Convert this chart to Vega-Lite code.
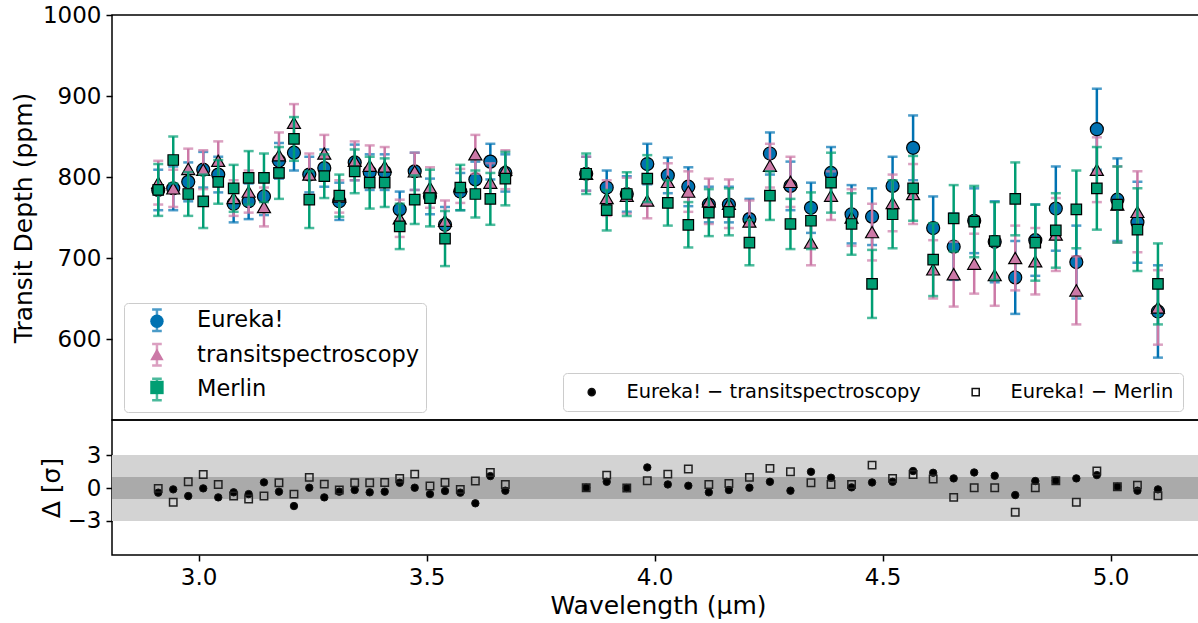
{
  "$schema": "https://vega.github.io/schema/vega-lite/v6.json",
  "padding": {"left": 10, "top": 3, "right": 0, "bottom": 0},
  "background": "white",
  "config": {
    "font": "DejaVu Sans",
    "view": {"stroke": "black", "strokeWidth": 1.5},
    "axis": {"domain": false, "grid": false, "ticks": true, "tickColor": "black", "tickWidth": 1.5, "tickSize": 6, "labelFontSize": 23, "labelColor": "black", "labelPadding": 5, "titleFontSize": 25, "titleFontWeight": "normal", "titleColor": "black"},
    "legend": {"labelFont": "DejaVu Sans", "labelColor": "black", "labelLimit": 600}
  },
  "datasets": {
    "main": [
      {"wl":2.9114,"series":"Eureka!","depth":784,"err":25},
      {"wl":2.9443,"series":"Eureka!","depth":786,"err":27},
      {"wl":2.9772,"series":"Eureka!","depth":794,"err":24},
      {"wl":3.0101,"series":"Eureka!","depth":809,"err":22},
      {"wl":3.0430,"series":"Eureka!","depth":803,"err":22},
      {"wl":3.0768,"series":"Eureka!","depth":767,"err":23},
      {"wl":3.1097,"series":"Eureka!","depth":770,"err":22},
      {"wl":3.1433,"series":"Eureka!","depth":776,"err":23},
      {"wl":3.1762,"series":"Eureka!","depth":820,"err":22},
      {"wl":3.2091,"series":"Eureka!","depth":830,"err":22},
      {"wl":3.2427,"series":"Eureka!","depth":803,"err":22},
      {"wl":3.2756,"series":"Eureka!","depth":811,"err":23},
      {"wl":3.3085,"series":"Eureka!","depth":770,"err":23},
      {"wl":3.3423,"series":"Eureka!","depth":818,"err":22},
      {"wl":3.3752,"series":"Eureka!","depth":806,"err":22},
      {"wl":3.4081,"series":"Eureka!","depth":806,"err":22},
      {"wl":3.4410,"series":"Eureka!","depth":760,"err":22},
      {"wl":3.4739,"series":"Eureka!","depth":807,"err":23},
      {"wl":3.5074,"series":"Eureka!","depth":776,"err":22},
      {"wl":3.5404,"series":"Eureka!","depth":741,"err":22},
      {"wl":3.5739,"series":"Eureka!","depth":782,"err":23},
      {"wl":3.6069,"series":"Eureka!","depth":797,"err":22},
      {"wl":3.6398,"series":"Eureka!","depth":819,"err":22},
      {"wl":3.6727,"series":"Eureka!","depth":805,"err":23},
      {"wl":3.850,"series":"Eureka!","depth":804,"err":21},
      {"wl":3.895,"series":"Eureka!","depth":787,"err":21},
      {"wl":3.939,"series":"Eureka!","depth":779,"err":22},
      {"wl":3.984,"series":"Eureka!","depth":816,"err":25},
      {"wl":4.029,"series":"Eureka!","depth":802,"err":22},
      {"wl":4.074,"series":"Eureka!","depth":788,"err":24},
      {"wl":4.119,"series":"Eureka!","depth":766,"err":22},
      {"wl":4.163,"series":"Eureka!","depth":766,"err":22},
      {"wl":4.208,"series":"Eureka!","depth":748,"err":25},
      {"wl":4.253,"series":"Eureka!","depth":829,"err":26},
      {"wl":4.298,"series":"Eureka!","depth":789,"err":30},
      {"wl":4.343,"series":"Eureka!","depth":762,"err":31},
      {"wl":4.387,"series":"Eureka!","depth":805,"err":32},
      {"wl":4.432,"series":"Eureka!","depth":754,"err":36},
      {"wl":4.477,"series":"Eureka!","depth":751,"err":35},
      {"wl":4.522,"series":"Eureka!","depth":789,"err":36},
      {"wl":4.567,"series":"Eureka!","depth":836,"err":40},
      {"wl":4.611,"series":"Eureka!","depth":737,"err":39},
      {"wl":4.656,"series":"Eureka!","depth":714,"err":41},
      {"wl":4.701,"series":"Eureka!","depth":746,"err":40},
      {"wl":4.746,"series":"Eureka!","depth":720,"err":50},
      {"wl":4.791,"series":"Eureka!","depth":676,"err":45},
      {"wl":4.835,"series":"Eureka!","depth":722,"err":44},
      {"wl":4.880,"series":"Eureka!","depth":761,"err":52},
      {"wl":4.925,"series":"Eureka!","depth":695,"err":45},
      {"wl":4.970,"series":"Eureka!","depth":859,"err":50},
      {"wl":5.015,"series":"Eureka!","depth":772,"err":51},
      {"wl":5.059,"series":"Eureka!","depth":744,"err":50},
      {"wl":5.104,"series":"Eureka!","depth":634,"err":57},

      {"wl":2.9114,"series":"transitspectroscopy","depth":793,"err":27},
      {"wl":2.9443,"series":"transitspectroscopy","depth":786,"err":23},
      {"wl":2.9772,"series":"transitspectroscopy","depth":810,"err":25},
      {"wl":3.0101,"series":"transitspectroscopy","depth":809,"err":24},
      {"wl":3.0430,"series":"transitspectroscopy","depth":820,"err":24},
      {"wl":3.0768,"series":"transitspectroscopy","depth":774,"err":22},
      {"wl":3.1097,"series":"transitspectroscopy","depth":782,"err":26},
      {"wl":3.1433,"series":"transitspectroscopy","depth":763,"err":24},
      {"wl":3.1762,"series":"transitspectroscopy","depth":827,"err":28},
      {"wl":3.2091,"series":"transitspectroscopy","depth":867,"err":23},
      {"wl":3.2427,"series":"transitspectroscopy","depth":803,"err":26},
      {"wl":3.2756,"series":"transitspectroscopy","depth":829,"err":23},
      {"wl":3.3085,"series":"transitspectroscopy","depth":776,"err":20},
      {"wl":3.3423,"series":"transitspectroscopy","depth":820,"err":24},
      {"wl":3.3752,"series":"transitspectroscopy","depth":814,"err":25},
      {"wl":3.4081,"series":"transitspectroscopy","depth":813,"err":24},
      {"wl":3.4410,"series":"transitspectroscopy","depth":749,"err":23},
      {"wl":3.4739,"series":"transitspectroscopy","depth":807,"err":23},
      {"wl":3.5074,"series":"transitspectroscopy","depth":787,"err":25},
      {"wl":3.5404,"series":"transitspectroscopy","depth":746,"err":25},
      {"wl":3.5739,"series":"transitspectroscopy","depth":789,"err":21},
      {"wl":3.6069,"series":"transitspectroscopy","depth":828,"err":24},
      {"wl":3.6398,"series":"transitspectroscopy","depth":793,"err":24},
      {"wl":3.6727,"series":"transitspectroscopy","depth":809,"err":24},
      {"wl":3.850,"series":"transitspectroscopy","depth":804,"err":21},
      {"wl":3.895,"series":"transitspectroscopy","depth":774,"err":22},
      {"wl":3.939,"series":"transitspectroscopy","depth":777,"err":22},
      {"wl":3.984,"series":"transitspectroscopy","depth":771,"err":22},
      {"wl":4.029,"series":"transitspectroscopy","depth":794,"err":23},
      {"wl":4.074,"series":"transitspectroscopy","depth":782,"err":25},
      {"wl":4.119,"series":"transitspectroscopy","depth":770,"err":28},
      {"wl":4.163,"series":"transitspectroscopy","depth":767,"err":30},
      {"wl":4.208,"series":"transitspectroscopy","depth":745,"err":26},
      {"wl":4.253,"series":"transitspectroscopy","depth":814,"err":27},
      {"wl":4.298,"series":"transitspectroscopy","depth":794,"err":31},
      {"wl":4.343,"series":"transitspectroscopy","depth":719,"err":28},
      {"wl":4.387,"series":"transitspectroscopy","depth":777,"err":30},
      {"wl":4.432,"series":"transitspectroscopy","depth":750,"err":35},
      {"wl":4.477,"series":"transitspectroscopy","depth":732,"err":35},
      {"wl":4.522,"series":"transitspectroscopy","depth":768,"err":35},
      {"wl":4.567,"series":"transitspectroscopy","depth":779,"err":37},
      {"wl":4.611,"series":"transitspectroscopy","depth":686,"err":36},
      {"wl":4.656,"series":"transitspectroscopy","depth":680,"err":40},
      {"wl":4.701,"series":"transitspectroscopy","depth":693,"err":37},
      {"wl":4.746,"series":"transitspectroscopy","depth":679,"err":38},
      {"wl":4.791,"series":"transitspectroscopy","depth":700,"err":40},
      {"wl":4.835,"series":"transitspectroscopy","depth":696,"err":41},
      {"wl":4.880,"series":"transitspectroscopy","depth":729,"err":45},
      {"wl":4.925,"series":"transitspectroscopy","depth":660,"err":42},
      {"wl":4.970,"series":"transitspectroscopy","depth":809,"err":40},
      {"wl":5.015,"series":"transitspectroscopy","depth":766,"err":47},
      {"wl":5.059,"series":"transitspectroscopy","depth":757,"err":50},
      {"wl":5.104,"series":"transitspectroscopy","depth":639,"err":46},

      {"wl":2.9114,"series":"Merlin","depth":784,"err":32},
      {"wl":2.9443,"series":"Merlin","depth":821,"err":29},
      {"wl":2.9772,"series":"Merlin","depth":779,"err":27},
      {"wl":3.0101,"series":"Merlin","depth":770,"err":33},
      {"wl":3.0430,"series":"Merlin","depth":794,"err":27},
      {"wl":3.0768,"series":"Merlin","depth":786,"err":29},
      {"wl":3.1097,"series":"Merlin","depth":799,"err":33},
      {"wl":3.1433,"series":"Merlin","depth":799,"err":30},
      {"wl":3.1762,"series":"Merlin","depth":805,"err":32},
      {"wl":3.2091,"series":"Merlin","depth":847,"err":27},
      {"wl":3.2427,"series":"Merlin","depth":772,"err":35},
      {"wl":3.2756,"series":"Merlin","depth":801,"err":27},
      {"wl":3.3085,"series":"Merlin","depth":777,"err":26},
      {"wl":3.3423,"series":"Merlin","depth":807,"err":27},
      {"wl":3.3752,"series":"Merlin","depth":793,"err":32},
      {"wl":3.4081,"series":"Merlin","depth":793,"err":30},
      {"wl":3.4410,"series":"Merlin","depth":739,"err":28},
      {"wl":3.4739,"series":"Merlin","depth":772,"err":30},
      {"wl":3.5074,"series":"Merlin","depth":774,"err":35},
      {"wl":3.5404,"series":"Merlin","depth":724,"err":34},
      {"wl":3.5739,"series":"Merlin","depth":787,"err":28},
      {"wl":3.6069,"series":"Merlin","depth":779,"err":29},
      {"wl":3.6398,"series":"Merlin","depth":773,"err":32},
      {"wl":3.6727,"series":"Merlin","depth":798,"err":33},
      {"wl":3.850,"series":"Merlin","depth":804,"err":25},
      {"wl":3.895,"series":"Merlin","depth":759,"err":25},
      {"wl":3.939,"series":"Merlin","depth":779,"err":27},
      {"wl":3.984,"series":"Merlin","depth":798,"err":29},
      {"wl":4.029,"series":"Merlin","depth":768,"err":28},
      {"wl":4.074,"series":"Merlin","depth":741,"err":28},
      {"wl":4.119,"series":"Merlin","depth":756,"err":29},
      {"wl":4.163,"series":"Merlin","depth":757,"err":29},
      {"wl":4.208,"series":"Merlin","depth":719,"err":28},
      {"wl":4.253,"series":"Merlin","depth":777,"err":30},
      {"wl":4.298,"series":"Merlin","depth":742,"err":31},
      {"wl":4.343,"series":"Merlin","depth":746,"err":35},
      {"wl":4.387,"series":"Merlin","depth":793,"err":37},
      {"wl":4.432,"series":"Merlin","depth":742,"err":38},
      {"wl":4.477,"series":"Merlin","depth":668,"err":42},
      {"wl":4.522,"series":"Merlin","depth":754,"err":42},
      {"wl":4.567,"series":"Merlin","depth":786,"err":40},
      {"wl":4.611,"series":"Merlin","depth":698,"err":45},
      {"wl":4.656,"series":"Merlin","depth":749,"err":41},
      {"wl":4.701,"series":"Merlin","depth":745,"err":44},
      {"wl":4.746,"series":"Merlin","depth":721,"err":48},
      {"wl":4.791,"series":"Merlin","depth":773,"err":45},
      {"wl":4.835,"series":"Merlin","depth":719,"err":47},
      {"wl":4.880,"series":"Merlin","depth":734,"err":46},
      {"wl":4.925,"series":"Merlin","depth":760,"err":48},
      {"wl":4.970,"series":"Merlin","depth":786,"err":51},
      {"wl":5.015,"series":"Merlin","depth":766,"err":47},
      {"wl":5.059,"series":"Merlin","depth":735,"err":51},
      {"wl":5.104,"series":"Merlin","depth":668,"err":50}
    ],
    "resid": [
      {"wl":2.9114,"kind":"Eureka! − transitspectroscopy","sigma":-0.42},
      {"wl":2.9443,"kind":"Eureka! − transitspectroscopy","sigma":-0.12},
      {"wl":2.9772,"kind":"Eureka! − transitspectroscopy","sigma":-0.73},
      {"wl":3.0101,"kind":"Eureka! − transitspectroscopy","sigma":-0.03},
      {"wl":3.0430,"kind":"Eureka! − transitspectroscopy","sigma":-0.85},
      {"wl":3.0768,"kind":"Eureka! − transitspectroscopy","sigma":-0.39},
      {"wl":3.1097,"kind":"Eureka! − transitspectroscopy","sigma":-0.55},
      {"wl":3.1433,"kind":"Eureka! − transitspectroscopy","sigma":0.52},
      {"wl":3.1762,"kind":"Eureka! − transitspectroscopy","sigma":-0.33},
      {"wl":3.2091,"kind":"Eureka! − transitspectroscopy","sigma":-1.64},
      {"wl":3.2427,"kind":"Eureka! − transitspectroscopy","sigma":0.03},
      {"wl":3.2756,"kind":"Eureka! − transitspectroscopy","sigma":-0.85},
      {"wl":3.3085,"kind":"Eureka! − transitspectroscopy","sigma":-0.33},
      {"wl":3.3423,"kind":"Eureka! − transitspectroscopy","sigma":-0.18},
      {"wl":3.3752,"kind":"Eureka! − transitspectroscopy","sigma":-0.39},
      {"wl":3.4081,"kind":"Eureka! − transitspectroscopy","sigma":-0.33},
      {"wl":3.4410,"kind":"Eureka! − transitspectroscopy","sigma":0.48},
      {"wl":3.4739,"kind":"Eureka! − transitspectroscopy","sigma":0.03},
      {"wl":3.5074,"kind":"Eureka! − transitspectroscopy","sigma":-0.55},
      {"wl":3.5404,"kind":"Eureka! − transitspectroscopy","sigma":-0.27},
      {"wl":3.5739,"kind":"Eureka! − transitspectroscopy","sigma":-0.42},
      {"wl":3.6069,"kind":"Eureka! − transitspectroscopy","sigma":-1.39},
      {"wl":3.6398,"kind":"Eureka! − transitspectroscopy","sigma":1.09},
      {"wl":3.6727,"kind":"Eureka! − transitspectroscopy","sigma":-0.24},
      {"wl":3.850,"kind":"Eureka! − transitspectroscopy","sigma":0.03},
      {"wl":3.895,"kind":"Eureka! − transitspectroscopy","sigma":0.57},
      {"wl":3.939,"kind":"Eureka! − transitspectroscopy","sigma":0.0},
      {"wl":3.984,"kind":"Eureka! − transitspectroscopy","sigma":1.88},
      {"wl":4.029,"kind":"Eureka! − transitspectroscopy","sigma":0.33},
      {"wl":4.074,"kind":"Eureka! − transitspectroscopy","sigma":0.21},
      {"wl":4.119,"kind":"Eureka! − transitspectroscopy","sigma":-0.39},
      {"wl":4.163,"kind":"Eureka! − transitspectroscopy","sigma":-0.18},
      {"wl":4.208,"kind":"Eureka! − transitspectroscopy","sigma":0.03},
      {"wl":4.253,"kind":"Eureka! − transitspectroscopy","sigma":0.57},
      {"wl":4.298,"kind":"Eureka! − transitspectroscopy","sigma":-0.24},
      {"wl":4.343,"kind":"Eureka! − transitspectroscopy","sigma":1.48},
      {"wl":4.387,"kind":"Eureka! − transitspectroscopy","sigma":0.94},
      {"wl":4.432,"kind":"Eureka! − transitspectroscopy","sigma":0.06},
      {"wl":4.477,"kind":"Eureka! − transitspectroscopy","sigma":0.51},
      {"wl":4.522,"kind":"Eureka! − transitspectroscopy","sigma":0.57},
      {"wl":4.567,"kind":"Eureka! − transitspectroscopy","sigma":1.55},
      {"wl":4.611,"kind":"Eureka! − transitspectroscopy","sigma":1.39},
      {"wl":4.656,"kind":"Eureka! − transitspectroscopy","sigma":0.88},
      {"wl":4.701,"kind":"Eureka! − transitspectroscopy","sigma":1.42},
      {"wl":4.746,"kind":"Eureka! − transitspectroscopy","sigma":1.12},
      {"wl":4.791,"kind":"Eureka! − transitspectroscopy","sigma":-0.64},
      {"wl":4.835,"kind":"Eureka! − transitspectroscopy","sigma":0.64},
      {"wl":4.880,"kind":"Eureka! − transitspectroscopy","sigma":0.67},
      {"wl":4.925,"kind":"Eureka! − transitspectroscopy","sigma":0.88},
      {"wl":4.970,"kind":"Eureka! − transitspectroscopy","sigma":1.18},
      {"wl":5.015,"kind":"Eureka! − transitspectroscopy","sigma":0.12},
      {"wl":5.059,"kind":"Eureka! − transitspectroscopy","sigma":-0.24},
      {"wl":5.104,"kind":"Eureka! − transitspectroscopy","sigma":-0.12},

      {"wl":2.9114,"kind":"Eureka! − Merlin","sigma":-0.03},
      {"wl":2.9443,"kind":"Eureka! − Merlin","sigma":-1.30},
      {"wl":2.9772,"kind":"Eureka! − Merlin","sigma":0.57},
      {"wl":3.0101,"kind":"Eureka! − Merlin","sigma":1.24},
      {"wl":3.0430,"kind":"Eureka! − Merlin","sigma":0.33},
      {"wl":3.0768,"kind":"Eureka! − Merlin","sigma":-0.73},
      {"wl":3.1097,"kind":"Eureka! − Merlin","sigma":-1.00},
      {"wl":3.1433,"kind":"Eureka! − Merlin","sigma":-0.73},
      {"wl":3.1762,"kind":"Eureka! − Merlin","sigma":0.48},
      {"wl":3.2091,"kind":"Eureka! − Merlin","sigma":-0.55},
      {"wl":3.2427,"kind":"Eureka! − Merlin","sigma":0.97},
      {"wl":3.2756,"kind":"Eureka! − Merlin","sigma":0.36},
      {"wl":3.3085,"kind":"Eureka! − Merlin","sigma":-0.18},
      {"wl":3.3423,"kind":"Eureka! − Merlin","sigma":0.48},
      {"wl":3.3752,"kind":"Eureka! − Merlin","sigma":0.48},
      {"wl":3.4081,"kind":"Eureka! − Merlin","sigma":0.51},
      {"wl":3.4410,"kind":"Eureka! − Merlin","sigma":0.88},
      {"wl":3.4739,"kind":"Eureka! − Merlin","sigma":1.27},
      {"wl":3.5074,"kind":"Eureka! − Merlin","sigma":0.18},
      {"wl":3.5404,"kind":"Eureka! − Merlin","sigma":0.51},
      {"wl":3.5739,"kind":"Eureka! − Merlin","sigma":-0.12},
      {"wl":3.6069,"kind":"Eureka! − Merlin","sigma":0.64},
      {"wl":3.6398,"kind":"Eureka! − Merlin","sigma":1.42},
      {"wl":3.6727,"kind":"Eureka! − Merlin","sigma":0.33},
      {"wl":3.850,"kind":"Eureka! − Merlin","sigma":0.03},
      {"wl":3.895,"kind":"Eureka! − Merlin","sigma":1.18},
      {"wl":3.939,"kind":"Eureka! − Merlin","sigma":0.0},
      {"wl":3.984,"kind":"Eureka! − Merlin","sigma":0.67},
      {"wl":4.029,"kind":"Eureka! − Merlin","sigma":1.27},
      {"wl":4.074,"kind":"Eureka! − Merlin","sigma":1.73},
      {"wl":4.119,"kind":"Eureka! − Merlin","sigma":0.33},
      {"wl":4.163,"kind":"Eureka! − Merlin","sigma":0.42},
      {"wl":4.208,"kind":"Eureka! − Merlin","sigma":0.97},
      {"wl":4.253,"kind":"Eureka! − Merlin","sigma":1.79},
      {"wl":4.298,"kind":"Eureka! − Merlin","sigma":1.48},
      {"wl":4.343,"kind":"Eureka! − Merlin","sigma":0.48},
      {"wl":4.387,"kind":"Eureka! − Merlin","sigma":0.33},
      {"wl":4.432,"kind":"Eureka! − Merlin","sigma":0.33},
      {"wl":4.477,"kind":"Eureka! − Merlin","sigma":2.09},
      {"wl":4.522,"kind":"Eureka! − Merlin","sigma":0.88},
      {"wl":4.567,"kind":"Eureka! − Merlin","sigma":1.24},
      {"wl":4.611,"kind":"Eureka! − Merlin","sigma":0.82},
      {"wl":4.656,"kind":"Eureka! − Merlin","sigma":-0.85},
      {"wl":4.701,"kind":"Eureka! − Merlin","sigma":0.03},
      {"wl":4.746,"kind":"Eureka! − Merlin","sigma":0.03},
      {"wl":4.791,"kind":"Eureka! − Merlin","sigma":-2.21},
      {"wl":4.835,"kind":"Eureka! − Merlin","sigma":0.03},
      {"wl":4.880,"kind":"Eureka! − Merlin","sigma":0.67},
      {"wl":4.925,"kind":"Eureka! − Merlin","sigma":-1.30},
      {"wl":4.970,"kind":"Eureka! − Merlin","sigma":1.55},
      {"wl":5.015,"kind":"Eureka! − Merlin","sigma":0.12},
      {"wl":5.059,"kind":"Eureka! − Merlin","sigma":0.27},
      {"wl":5.104,"kind":"Eureka! − Merlin","sigma":-0.70}
    ]
  },
  "vconcat": [
    {
      "width": 1092,
      "height": 405,
      "encoding": {
        "x": {"field": "wl", "type": "quantitative", "scale": {"domain": [2.81, 5.205], "nice": false, "zero": false}, "axis": null},
        "y": {"field": "depth", "type": "quantitative", "scale": {"domain": [500, 1000], "nice": false, "zero": false}, "axis": {"values": [600, 700, 800, 900, 1000], "format": "d", "title": "Transit Depth (ppm)", "titlePadding": 6}}
      },
      "layer": [
        {
          "data": {"name": "main"},
          "transform": [{"filter": "datum.series === 'Eureka!'"}],
          "mark": {"type": "errorbar", "thickness": 2.5, "ticks": {"size": 10, "thickness": 2.5}},
          "encoding": {
            "yError": {"field": "err"},
            "color": {"field": "series", "type": "nominal", "scale": {"domain": ["Eureka!", "transitspectroscopy", "Merlin", "_"], "range": ["#0072B2", "#CC79A7", "#009E73", "#ffffff"]},
              "legend": {"title": null, "orient": "none", "legendX": 12, "legendY": 288, "values": ["Eureka!", "transitspectroscopy", "Merlin"], "symbolType": "M0,-1.6L0,1.6M-0.72,-1.6L0.72,-1.6M-0.72,1.6L0.72,1.6", "symbolSize": 180, "symbolStrokeWidth": 2.5, "labelFontSize": 22.5, "labelOffset": 28.9, "rowPadding": 2.6, "padding": 6, "symbolOffset": 15.7, "strokeColor": "#cccccc", "fillColor": "#ffffff", "cornerRadius": 4}}
          }
        },
        {
          "data": {"name": "main"},
          "transform": [{"filter": "datum.series === 'Eureka!'"}],
          "mark": {"type": "point", "filled": true, "size": 169, "stroke": "black", "strokeWidth": 1.2, "opacity": 1},
          "encoding": {
            "fill": {"field": "series", "type": "nominal", "scale": {"domain": ["Eureka!", "transitspectroscopy", "Merlin"], "range": ["#0072B2", "#CC79A7", "#009E73"]},
              "legend": {"title": null, "orient": "none", "legendX": 12, "legendY": 286, "symbolSize": 180, "symbolStrokeColor": "black", "symbolStrokeWidth": 1.2, "labelFontSize": 22.5, "labelOpacity": 0, "labelExpr": "' '", "labelOffset": 28.9, "rowPadding": 10.1, "padding": 9, "symbolOffset": 12.7, "strokeColor": "transparent", "fillColor": "transparent", "zindex": 2,
                "encode": {"symbols": {"update": {"stroke": {"value": "black"}, "strokeWidth": {"value": 1.2}}}}}},
            "shape": {"field": "series", "type": "nominal", "scale": {"domain": ["Eureka!", "transitspectroscopy", "Merlin"], "range": ["circle", "triangle-up", "square"]},
              "legend": {"title": null, "orient": "none", "legendX": 12, "legendY": 286, "symbolSize": 180, "symbolStrokeColor": "black", "symbolStrokeWidth": 1.2, "labelFontSize": 22.5, "labelOpacity": 0, "labelExpr": "' '", "labelOffset": 28.9, "rowPadding": 10.1, "padding": 9, "symbolOffset": 12.7, "strokeColor": "transparent", "fillColor": "transparent", "zindex": 2,
                "encode": {"symbols": {"update": {"stroke": {"value": "black"}, "strokeWidth": {"value": 1.2}}}}}}
          }
        },
        {
          "data": {"name": "main"},
          "transform": [{"filter": "datum.series === 'transitspectroscopy'"}],
          "mark": {"type": "errorbar", "thickness": 2.5, "ticks": {"size": 10, "thickness": 2.5}},
          "encoding": {
            "yError": {"field": "err"},
            "color": {"field": "series", "type": "nominal"}
          }
        },
        {
          "data": {"name": "main"},
          "transform": [{"filter": "datum.series === 'transitspectroscopy'"}],
          "mark": {"type": "point", "filled": true, "size": 170, "stroke": "black", "strokeWidth": 1.2, "opacity": 1},
          "encoding": {
            "fill": {"field": "series", "type": "nominal"},
            "shape": {"field": "series", "type": "nominal"}
          }
        },
        {
          "data": {"name": "main"},
          "transform": [{"filter": "datum.series === 'Merlin'"}],
          "mark": {"type": "errorbar", "thickness": 2.5, "ticks": {"size": 10, "thickness": 2.5}},
          "encoding": {
            "yError": {"field": "err"},
            "color": {"field": "series", "type": "nominal"}
          }
        },
        {
          "data": {"name": "main"},
          "transform": [{"filter": "datum.series === 'Merlin'"}],
          "mark": {"type": "point", "filled": true, "size": 110, "stroke": "black", "strokeWidth": 1.2, "opacity": 1},
          "encoding": {
            "fill": {"field": "series", "type": "nominal"},
            "shape": {"field": "series", "type": "nominal"}
          }
        }
      ]
    },
    {
      "width": 1092,
      "height": 135,
      "layer": [
        {
          "data": {"values": [{"lo": -3, "hi": 3}]},
          "mark": {"type": "rect", "color": "#d3d3d3"},
          "encoding": {
            "y": {"field": "lo", "type": "quantitative", "scale": {"domain": [-6.1, 6.2], "nice": false, "zero": false}, "axis": {"values": [-3, 0, 3], "title": "Δ [σ]", "titleX": -61, "titleY": 67.5, "titleBaseline": "middle", "titleAlign": "center", "titleAngle": 270, "labelExpr": "replace(datum.label, '-', '−')"}},
            "y2": {"field": "hi"}
          }
        },
        {
          "data": {"values": [{"lo": -1, "hi": 1}]},
          "mark": {"type": "rect", "color": "#aaaaaa"},
          "encoding": {
            "y": {"field": "lo", "type": "quantitative"},
            "y2": {"field": "hi"}
          }
        },
        {
          "data": {"name": "resid"},
          "transform": [{"filter": "datum.kind === 'Eureka! − transitspectroscopy'"}],
          "mark": {"type": "point", "filled": true, "size": 55, "stroke": "#111111", "strokeWidth": 1, "opacity": 1},
          "encoding": {
            "x": {"field": "wl", "type": "quantitative", "scale": {"domain": [2.81, 5.205], "nice": false, "zero": false}, "axis": {"values": [3.0, 3.5, 4.0, 4.5, 5.0], "format": ".1f", "title": "Wavelength (µm)", "titlePadding": 4}},
            "y": {"field": "sigma", "type": "quantitative"},
            "fill": {"field": "kind", "type": "nominal", "scale": {"domain": ["Eureka! − transitspectroscopy", "Eureka! − Merlin"], "range": ["#000000", "transparent"]},
              "legend": {"title": null, "orient": "none", "direction": "horizontal", "legendX": 451, "legendY": -47, "symbolSize": 50, "labelFontSize": 19.4, "labelOffset": 25, "columnPadding": 35, "padding": 9, "symbolOffset": 10, "strokeColor": "#cccccc", "fillColor": "#ffffff", "cornerRadius": 4,
                "encode": {"symbols": {"update": {"stroke": {"value": "#222222"}, "strokeWidth": {"value": 1.5}}}}}},
            "shape": {"field": "kind", "type": "nominal", "scale": {"domain": ["Eureka! − transitspectroscopy", "Eureka! − Merlin"], "range": ["circle", "square"]},
              "legend": {"title": null, "orient": "none", "direction": "horizontal", "legendX": 451, "legendY": -47, "symbolSize": 50, "labelFontSize": 19.4, "labelOffset": 25, "columnPadding": 35, "padding": 9, "symbolOffset": 10, "strokeColor": "#cccccc", "fillColor": "#ffffff", "cornerRadius": 4,
                "encode": {"symbols": {"update": {"stroke": {"value": "#222222"}, "strokeWidth": {"value": 1.5}}}}}}
          }
        },
        {
          "data": {"name": "resid"},
          "transform": [{"filter": "datum.kind === 'Eureka! − Merlin'"}],
          "mark": {"type": "point", "filled": true, "size": 55, "stroke": "#222222", "strokeWidth": 1.5, "opacity": 1},
          "encoding": {
            "x": {"field": "wl", "type": "quantitative"},
            "y": {"field": "sigma", "type": "quantitative"},
            "fill": {"field": "kind", "type": "nominal"},
            "shape": {"field": "kind", "type": "nominal"}
          }
        }
      ]
    }
  ],
  "spacing": 0,
  "bounds": "flush",
  "resolve": {"scale": {"fill": "independent", "shape": "independent", "color": "independent"}}
}
